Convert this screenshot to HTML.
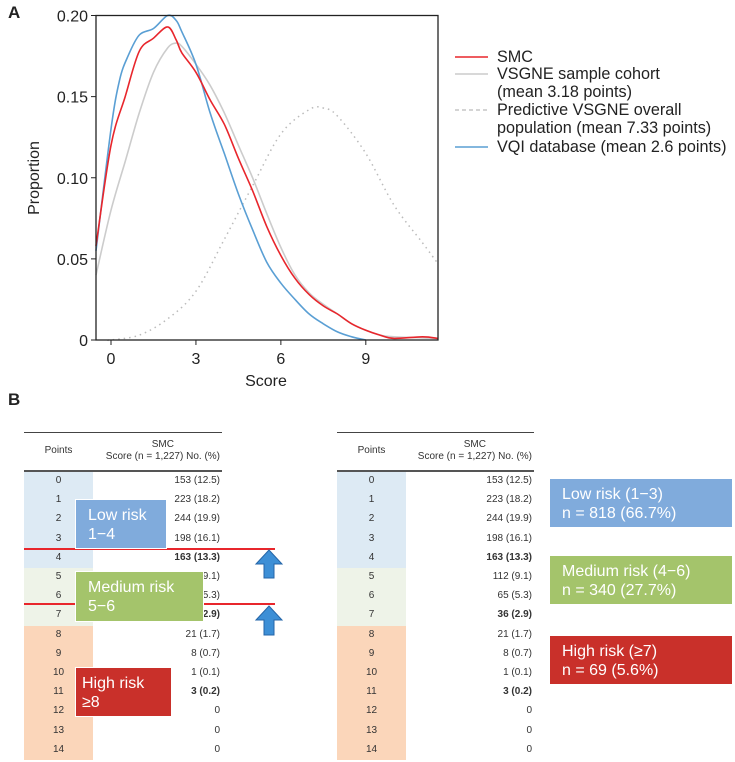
<!DOCTYPE html>
<html><head><meta charset="utf-8"><style>
body{margin:0;width:735px;height:760px;background:#fff;font-family:"Liberation Sans",sans-serif;overflow:hidden;position:relative}
svg{position:absolute;left:0;top:0}
.t{position:absolute;font-size:10px;color:#333}
.box{position:absolute;color:#fff;font-size:16px;line-height:19px;padding-left:12px;box-sizing:border-box;border:1px solid #fff}
</style></head><body>
<svg id="chart" width="735" height="760"></svg>
<script>
const smcX=[-0.53,0,0.5,1,1.5,2,2.3,2.5,3,3.5,4,4.5,5,5.5,6,6.5,7,7.5,8,8.5,9,9.5,10,11,11.55];
const smcY=[0.058,0.12,0.15,0.178,0.186,0.193,0.185,0.177,0.165,0.148,0.133,0.112,0.092,0.07,0.052,0.038,0.028,0.021,0.016,0.01,0.006,0.003,0.001,0.002,0.001];
const vqiX=[-0.53,0,0.3,0.6,1,1.5,2,2.3,2.5,3,3.5,4,4.5,5,5.5,6,6.5,7,7.5,8,8.5,9];
const vqiY=[0.055,0.13,0.16,0.175,0.188,0.192,0.2,0.197,0.19,0.17,0.14,0.115,0.09,0.068,0.048,0.035,0.025,0.016,0.01,0.005,0.002,0];
const vsgX=[-0.53,0,0.5,1,1.5,2,2.3,2.5,3,3.5,4,4.5,5,5.5,6,6.5,7,7.5,8,8.5,9,9.5,10,11.55];
const vsgY=[0.04,0.08,0.11,0.14,0.165,0.18,0.183,0.181,0.17,0.157,0.14,0.12,0.1,0.078,0.057,0.04,0.029,0.022,0.016,0.01,0.006,0.003,0.002,0.001];
const predX=[-0.1,0,1,2,3,4,5,6,7,7.5,8,9,10,11,11.55];
const predY=[0,0,0.003,0.013,0.03,0.062,0.095,0.127,0.142,0.143,0.138,0.115,0.083,0.06,0.047];
const xTicks=[0,3,6,9];
const yTicks=[0,0.05,0.10,0.15,0.20];
const yTickLabels=["0","0.05","0.10","0.15","0.20"];
const NS="http://www.w3.org/2000/svg";
const svg=document.getElementById('chart');
const L=96,R=438,T=15.5,B=340,x0=-0.53,x1=11.55;
const sx=v=>L+(v-x0)/(x1-x0)*(R-L);
const sy=v=>B-v/0.2*(B-T);
function mk(tag,attrs){const e=document.createElementNS(NS,tag);for(const k in attrs)e.setAttribute(k,attrs[k]);svg.appendChild(e);return e;}
function line(xs,ys,color,name,dash){
 const P=xs.map((x,i)=>[sx(x),sy(ys[i])]);
 let d='M'+P[0][0].toFixed(1)+','+P[0][1].toFixed(1);
 for(let i=0;i<P.length-1;i++){
  const p0=P[Math.max(0,i-1)],p1=P[i],p2=P[i+1],p3=P[Math.min(P.length-1,i+2)];
  const c1=[p1[0]+(p2[0]-p0[0])/6,p1[1]+(p2[1]-p0[1])/6];
  const c2=[p2[0]-(p3[0]-p1[0])/6,p2[1]-(p3[1]-p1[1])/6];
  d+=`C${c1[0].toFixed(1)},${c1[1].toFixed(1)} ${c2[0].toFixed(1)},${c2[1].toFixed(1)} ${p2[0].toFixed(1)},${p2[1].toFixed(1)}`;
 }
 const p=mk('path',{d:d,fill:'none',stroke:color,'stroke-width':dash?1.5:1.6,'stroke-linejoin':'round'});
 if(dash)p.setAttribute('stroke-dasharray','1.5,4');
 
 
}
line(predX,predY,'#bbb','predictive-vsgne-line',true);
line(vsgX,vsgY,'#ccc','vsgne-sample-line');
line(vqiX,vqiY,'#5a9fd4','vqi-database-line');
line(smcX,smcY,'#e8262c','smc-line');
const fr=mk('rect',{x:L,y:T,width:R-L,height:B-T,fill:'none',stroke:'#222','stroke-width':1.3});


xTicks.forEach(v=>{mk('line',{x1:sx(v),x2:sx(v),y1:B,y2:B+5,stroke:'#222'});
 const t=mk('text',{x:sx(v),y:B+24,'text-anchor':'middle','font-size':16,fill:'#222'});t.textContent=v;
 
 });
yTicks.forEach((v,i)=>{mk('line',{x1:L-5,x2:L,y1:sy(v),y2:sy(v),stroke:'#222'});
 const t=mk('text',{x:L-8,y:sy(v)+6,'text-anchor':'end','font-size':16,fill:'#222'});t.textContent=yTickLabels[i];
 
 });
</script>
<svg width="735" height="760" style="pointer-events:none">
<text x="8" y="18" font-size="17" font-weight="bold" fill="#222">A</text>
<text x="266" y="386" font-size="16" text-anchor="middle" fill="#222">Score</text>
<text transform="translate(39,178) rotate(-90)" font-size="16" text-anchor="middle" fill="#222">Proportion</text>
<g font-size="16.2" fill="#222">
<line x1="455" x2="488" y1="57" y2="57" stroke="#e8262c" stroke-width="1.6"/><text x="497" y="62">SMC</text>
<line x1="455" x2="488" y1="74" y2="74" stroke="#ccc" stroke-width="1.6"/><text x="497" y="79">VSGNE sample cohort</text><text x="497" y="97">(mean 3.18 points)</text>
<line x1="455" x2="488" y1="110" y2="110" stroke="#bbb" stroke-width="1.3" stroke-dasharray="4,3"/><text x="497" y="115">Predictive VSGNE overall</text><text x="497" y="133">population (mean 7.33 points)</text>
<line x1="455" x2="488" y1="147" y2="147" stroke="#5a9fd4" stroke-width="1.6"/><text x="497" y="152">VQI database (mean 2.6 points)</text>
</g>
<text x="8" y="405" font-size="17" font-weight="bold" fill="#222">B</text>
</svg>
<div id="tables"></div>
<script>
const pts=[0,1,2,3,4,5,6,7,8,9,10,11,12,13,14];
const vals=["153 (12.5)","223 (18.2)","244 (19.9)","198 (16.1)","163 (13.3)","112 (9.1)","65 (5.3)","36 (2.9)","21 (1.7)","8 (0.7)","1 (0.1)","3 (0.2)","0","0","0"];
const bold=[4,7,11];
const wrap=document.getElementById('tables');
function table(x0,w,name){
 const tb=document.createElement('div');tb.style.cssText=`position:absolute;left:${x0}px;top:432px;width:${w}px;height:330px`;
 
 
 let h=`<div style="position:absolute;left:0;top:0;width:${w}px;border-top:1.5px solid #444"></div>
 <div class="t" style="left:0;width:69px;top:13px;text-align:center">Points</div>
 <div class="t" style="right:2px;top:7px;text-align:center;line-height:12px">SMC<br>Score (n = 1,227) No. (%)</div>
 <div style="position:absolute;left:0;top:38px;width:${w}px;border-top:2px solid #555"></div>`;
 pts.forEach((p,i)=>{const top=40+19.2*i;const c=i<5?'#ddeaf4':i<8?'#eef3e8':'#fbd6ba';
  h+=`<div style="position:absolute;left:0;top:${top}px;width:69px;height:19.3px;background:${c}"></div>
  <div class="t" style="left:0;width:69px;top:${top+3}px;text-align:center">${p}</div>
  <div class="t" style="right:2px;top:${top+3}px;${bold.includes(i)?'font-weight:bold':''}">${vals[i]}</div>`;});
 tb.innerHTML=h;wrap.appendChild(tb);
}
table(24,198,'left-table');
table(337,197,'right-table');
</script>
<div style="position:absolute;left:24px;top:548px;width:251px;height:1.5px;background:#e8262c"></div>
<div style="position:absolute;left:24px;top:603px;width:251px;height:1.5px;background:#e8262c"></div>
<svg width="735" height="760" style="pointer-events:none">
<path d="M256,564 L269,550 L282,564 L274,564 L274,578 L264,578 L264,564 Z" fill="#3d8fd6" stroke="#2566a8"/>
<path d="M256,620 L269,606 L282,620 L274,620 L274,635 L264,635 L264,620 Z" fill="#3d8fd6" stroke="#2566a8"/>
</svg>
<div class="box" style="left:75px;top:499px;width:92px;height:50px;background:#80abdc;padding-top:6px">Low risk<br>1−4</div>
<div class="box" style="left:75px;top:571px;width:129px;height:51px;background:#a4c46b;padding-top:6px">Medium risk<br>5−6</div>
<div class="box" style="left:75px;top:667px;width:97px;height:50px;background:#c9302a;padding-top:6px;padding-left:6px">High risk<br>≥8</div>
<div class="box" style="left:549px;top:478px;width:184px;height:50px;background:#80abdc;padding-top:6px">Low risk (1−3)<br>n = 818 (66.7%)</div>
<div class="box" style="left:549px;top:555px;width:184px;height:50px;background:#a4c46b;padding-top:6px">Medium risk (4−6)<br>n = 340 (27.7%)</div>
<div class="box" style="left:549px;top:635px;width:184px;height:50px;background:#c9302a;padding-top:6px">High risk (≥7)<br>n = 69 (5.6%)</div>
</body></html>
